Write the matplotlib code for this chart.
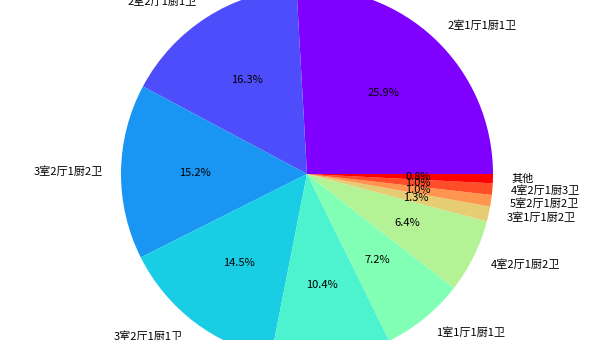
import numpy as np
import matplotlib
matplotlib.use("Agg")
import matplotlib.pyplot as plt

plt.rcParams['font.family'] = ['Noto Sans CJK SC', 'DejaVu Sans']

labels = ['2室1厅1厨1卫', '2室2厅1厨1卫', '3室2厅1厨2卫', '3室2厅1厨1卫',
          '3室1厅1厨1卫', '1室1厅1厨1卫', '4室2厅1厨2卫', '3室1厅1厨2卫',
          '5室2厅1厨2卫', '4室2厅1厨3卫', '其他']
values = [25.9, 16.3, 15.2, 14.5, 10.4, 7.2, 6.4, 1.3, 1.0, 1.0, 0.8]

colors = plt.cm.rainbow(np.linspace(0, 1, len(values)))

fig = plt.figure(figsize=(6, 3.4), dpi=100)
ax = fig.add_axes([0, 0, 1, 1])
wedges, texts, autotexts = ax.pie(values, labels=labels, colors=colors,
                                  autopct='%1.1f%%', startangle=0,
                                  textprops={'fontsize': 8})
r = 186.0
cx, cy = 307.0, 166.0
ax.set_aspect('auto')
ax.set_xlim(-cx / r, (600 - cx) / r)
ax.set_ylim(-cy / r, (340 - cy) / r)
ax.axis('off')
fig.savefig('out.png', dpi=100)
